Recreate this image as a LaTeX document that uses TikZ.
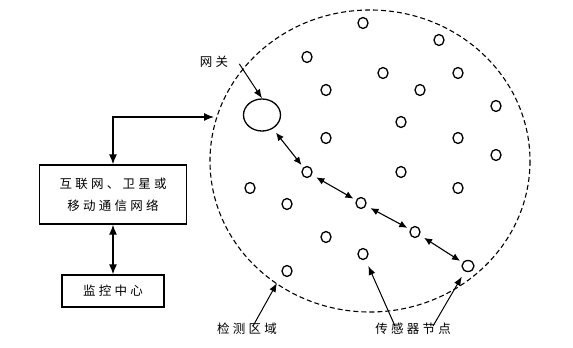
\documentclass[tikz,border=0pt]{standalone}
\usepackage{fontspec}
\newfontfamily\cjk[LetterSpace=26]{Noto Sans CJK SC}
\usetikzlibrary{arrows.meta,shapes.geometric}

\tikzset{
  box/.style={draw, line width=1.3pt, align=center, inner sep=0pt},
  sensor/.style={draw, ellipse, line width=1.3pt, minimum width=10pt, minimum height=11pt, inner sep=0pt},
  link/.style={{Latex[length=10pt,width=8pt]}-{Latex[length=10pt,width=8pt]}, line width=1.3pt},
  hop/.style={{Latex[length=8pt,width=7pt]}-{Latex[length=8pt,width=7pt]}, line width=1.1pt, shorten <=5pt, shorten >=3pt},
  pointer/.style={-{Latex[length=9pt,width=7pt]}, line width=1pt},
  lbl/.style={font=\cjk\fontsize{12.5}{22}\selectfont, inner sep=1pt}
}

\begin{document}
\begin{tikzpicture}[x=1pt, y=-1pt]
  \useasboundingbox (0,0) rectangle (573,348);

  % Monitored region
  \draw[dash pattern=on 5pt off 3pt, line width=1.1pt] (370,161) ellipse [x radius=160, y radius=151];
  \coordinate (entry) at (214,117);
  \coordinate (edge) at (277,283);

  % Boxes
  \node[box, lbl, minimum width=147pt, minimum height=59pt] (net) at (113,194.5) {互联网、卫星或\\移动通信网络};
  \node[box, lbl, minimum width=102pt, minimum height=32pt] (center) at (113,291) {监控中心};

  \draw[link] (net.north) |- (entry);
  \draw[link] (net) -- (center);

  % Gateway and relay chain
  \node[draw, ellipse, line width=1.3pt, minimum width=37pt, minimum height=32pt] (gw) at (262,115) {};
  \node[sensor] (n1) at (307,172) {};
  \node[sensor] (n2) at (361,203) {};
  \node[sensor] (n3) at (415,232) {};
  \node[sensor, minimum width=12pt] (n4) at (468,266) {};

  \draw[hop] (gw) -- (n1);
  \draw[hop] (n1) -- (n2);
  \draw[hop] (n2) -- (n3);
  \draw[hop] (n3) -- (n4);

  % Other sensor nodes
  \foreach \x/\y [count=\i] in {363/23, 439/40, 307/57, 383/73, 458/73, 326/90, 420/90,
      496/106, 401/122, 326/138, 458/138, 496/155, 250/188, 401/172, 458/188,
      287/204, 326/237, 363/254, 287/271}
    \node[sensor] (s\i) at (\x,\y) {};

  % Labels
  \node[lbl] (gwname) at (214,62) {网关};
  \node[lbl] (region) at (247,329) {检测区域};
  \node[lbl] (sensors) at (413,329) {传感器节点};

  \draw[pointer] ([xshift=10pt,yshift=5pt]gwname.south east) -- (gw.north);
  \draw[pointer] ([xshift=6pt,yshift=-4pt]region.north) -- (edge);
  \draw[pointer, shorten >=7pt] ([xshift=-18pt,yshift=-4pt]sensors.north) -- (s18);
  \draw[pointer, shorten >=6pt] ([xshift=20pt,yshift=-4pt]sensors.north) -- (n4);
\end{tikzpicture}
\end{document}
